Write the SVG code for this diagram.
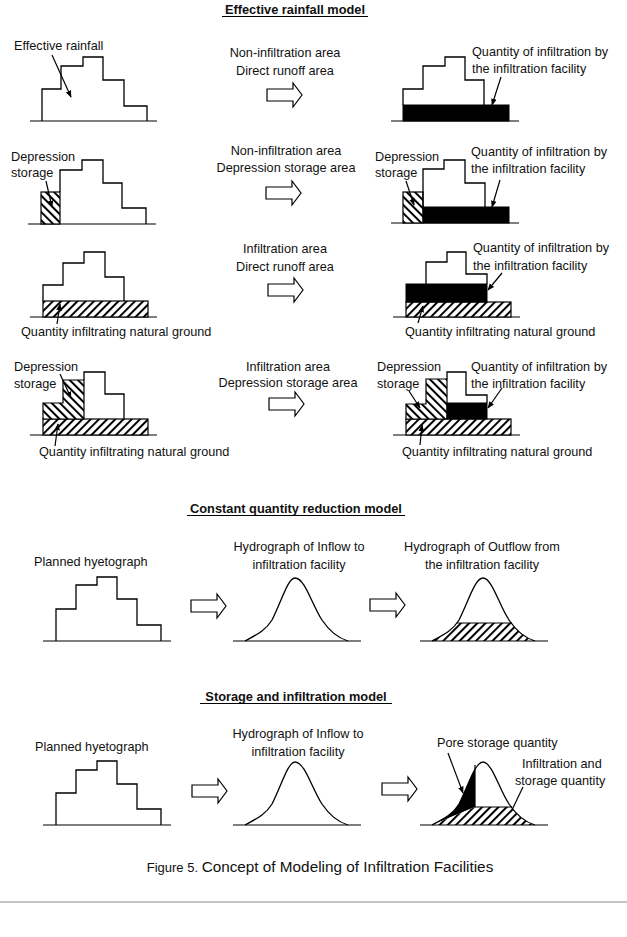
<svg xmlns="http://www.w3.org/2000/svg" width="627" height="937" viewBox="0 0 627 937">
<style>
text{font-family:"Liberation Sans",Arial,sans-serif;font-size:12.7px;fill:#111}
.t{font-weight:bold;font-size:12.8px}
.c{text-anchor:middle}
.ln{stroke:#000;stroke-width:1.3;fill:none}
.base{stroke:#000;stroke-width:1.2;fill:none}
.blk{fill:#000;stroke:#000;stroke-width:1}
.hf{fill:url(#fwd);stroke:#000;stroke-width:1.2}
.hb{fill:url(#bk);stroke:#000;stroke-width:1.2}
.ptr{stroke:#000;stroke-width:1.2;fill:none;marker-end:url(#ah)}
.ptr0{stroke:#000;stroke-width:1.2;fill:none}
.ba{fill:#fff;stroke:#000;stroke-width:1.2}
</style>
<defs>
<pattern id="fwd" width="5.8" height="5.8" patternUnits="userSpaceOnUse" patternTransform="rotate(45)"><rect width="5.8" height="5.8" fill="#fff"/><line x1="1" y1="0" x2="1" y2="5.8" stroke="#000" stroke-width="2"/></pattern>
<pattern id="bk" width="5.8" height="5.8" patternUnits="userSpaceOnUse" patternTransform="rotate(-45)"><rect width="5.8" height="5.8" fill="#fff"/><line x1="1" y1="0" x2="1" y2="5.8" stroke="#000" stroke-width="2"/></pattern>
<marker id="ah" viewBox="0 0 10 10" refX="9" refY="5" markerWidth="7" markerHeight="7" markerUnits="userSpaceOnUse" orient="auto"><path d="M0,1 L10,5 L0,9 z" fill="#000"/></marker>
<path id="barrow" d="M0,6 H26 V0 L35,12 L26,24 V18 H0 Z"/>
<clipPath id="bell1"><path d="M432,641 C445,634 453,630 459,620 C469,600 475,578 483,578 C492,578 499,605 509,620 C517,632 525,638 535,641 Z"/></clipPath>
<clipPath id="bell2"><path d="M432,825 C445,818 453,814 459,804 C469,784 475,762 483,762 C492,762 499,789 509,804 C517,816 525,822 535,825 Z"/></clipPath>
</defs>

<g id="titles">
<text class="t c" x="295" y="14">Effective rainfall model</text>
<line x1="222" y1="16.5" x2="368" y2="16.5" stroke="#000" stroke-width="1"/>
<text class="t c" x="296" y="513">Constant quantity reduction model</text>
<line x1="187" y1="515.5" x2="405" y2="515.5" stroke="#000" stroke-width="1"/>
<text class="t c" x="296" y="701">Storage and infiltration model</text>
<line x1="200" y1="703.5" x2="392" y2="703.5" stroke="#000" stroke-width="1"/>
</g>

<g id="r1-left">
<path class="base" d="M30,121 H157"/>
<path class="ln" d="M42,121 V89 H61 V66 H83 V57 H103 V80 H124 V106 H147 V121"/>
<text x="14" y="50">Effective rainfall</text>
</g>
<g id="r1-mid">
<text class="c" x="285" y="57">Non-infiltration area</text>
<text class="c" x="285" y="75">Direct runoff area</text>
</g>
<g id="r1-right">
<path class="base" d="M391,121 H519"/>
<rect class="blk" x="403" y="105" width="106" height="16"/>
<path class="ln" d="M403,105 V89 H423 V66 H445 V57 H465 V80 H484 V105"/>
<text x="472" y="56">Quantity of infiltration by</text>
<text x="472" y="73">the infiltration facility</text>
</g>

<g id="r2-left">
<path class="base" d="M28,224 H156"/>
<rect class="hb" x="41" y="192" width="19" height="32"/>
<path class="ln" d="M60,192 V170 H82 V160 H103 V183 H122 V208 H146 V224"/>
<text x="11" y="161">Depression</text>
<text x="11" y="177">storage</text>
</g>
<g id="r2-mid">
<text class="c" x="286" y="155">Non-infiltration area</text>
<text class="c" x="286" y="172">Depression storage area</text>
</g>
<g id="r2-right">
<path class="base" d="M391,223 H519"/>
<rect class="hb" x="403" y="192" width="20" height="31"/>
<rect class="blk" x="423" y="207" width="86" height="16"/>
<path class="ln" d="M423,207 V169 H444 V160 H465 V183 H485 V207"/>
<text x="375" y="161">Depression</text>
<text x="375" y="177">storage</text>
<text x="471" y="156">Quantity of infiltration by</text>
<text x="471" y="173">the infiltration facility</text>
</g>

<g id="r3-left">
<path class="base" d="M30,317 H157"/>
<rect class="hf" x="43" y="301" width="105" height="16"/>
<path class="ln" d="M43,301 V285 H63 V263 H84 V252 H105 V277 H124 V301"/>
<text x="21" y="336">Quantity infiltrating natural ground</text>
</g>
<g id="r3-mid">
<text class="c" x="285" y="253">Infiltration area</text>
<text class="c" x="285" y="271">Direct runoff area</text>
</g>
<g id="r3-right">
<path class="base" d="M393,317 H520"/>
<rect class="hf" x="406" y="302" width="105" height="15"/>
<rect class="blk" x="406" y="284" width="81" height="18"/>
<path class="ln" d="M426,284 V262 H447 V252 H466 V274 H487 V284"/>
<text x="473" y="252">Quantity of infiltration by</text>
<text x="473" y="270">the infiltration facility</text>
<text x="405" y="336">Quantity infiltrating natural ground</text>
</g>

<g id="r4-left">
<path class="base" d="M30,435 H157"/>
<rect class="hf" x="43" y="419" width="105" height="16"/>
<polygon class="hb" points="43,419 43,403 63,403 63,380 84,380 84,419"/>
<path class="ln" d="M84,380 V372 H105 V394 H124 V419"/>
<text x="14" y="371">Depression</text>
<text x="14" y="388">storage</text>
<text x="39" y="456">Quantity infiltrating natural ground</text>
</g>
<g id="r4-mid">
<text class="c" x="288" y="371">Infiltration area</text>
<text class="c" x="288" y="387">Depression storage area</text>
</g>
<g id="r4-right">
<path class="base" d="M393,435 H520"/>
<rect class="hf" x="406" y="419" width="105" height="16"/>
<polygon class="hb" points="406,419 406,404 426,404 426,379 447,379 447,419"/>
<rect class="blk" x="447" y="403" width="40" height="16"/>
<path class="ln" d="M447,379 V372 H466 V395 H487 V403"/>
<text x="377" y="371">Depression</text>
<text x="377" y="388">storage</text>
<text x="471" y="371">Quantity of infiltration by</text>
<text x="471" y="388">the infiltration facility</text>
<text x="402" y="456">Quantity infiltrating natural ground</text>
</g>

<g id="cq-hyetograph">
<text x="34" y="566">Planned hyetograph</text>
<path class="base" d="M43,641 H171"/>
<path class="ln" d="M56,641 V609 H76 V585 H97 V577 H117 V599 H137 V625 H161 V641"/>
</g>
<g id="cq-inflow">
<text class="c" x="299" y="551">Hydrograph of Inflow to</text>
<text class="c" x="299" y="569">infiltration facility</text>
<path class="base" d="M233,641 H361"/>
<path class="ln" d="M245,641 C258,634 266,630 272,620 C282,600 288,578 295,578 C305,578 312,605 322,620 C330,632 338,638 348,641"/>
</g>
<g id="cq-outflow">
<text class="c" x="482" y="551">Hydrograph of Outflow from</text>
<text class="c" x="482" y="569">the infiltration facility</text>
<rect x="420" y="623" width="128" height="18" fill="url(#fwd)" clip-path="url(#bell1)"/>
<line x1="457" y1="623" x2="512" y2="623" stroke="#000" stroke-width="1.2"/>
<path class="base" d="M420,641 H548"/>
<path class="ln" d="M432,641 C445,634 453,630 459,620 C469,600 475,578 483,578 C492,578 499,605 509,620 C517,632 525,638 535,641"/>
</g>

<g id="si-hyetograph">
<text x="35" y="751">Planned hyetograph</text>
<path class="base" d="M43,825 H171"/>
<path class="ln" d="M56,825 V793 H76 V770 H97 V761 H117 V784 H137 V809 H161 V825"/>
</g>
<g id="si-inflow">
<text class="c" x="298" y="738">Hydrograph of Inflow to</text>
<text class="c" x="298" y="756">infiltration facility</text>
<path class="base" d="M233,825 H361"/>
<path class="ln" d="M245,825 C258,818 266,814 272,804 C282,784 288,762 295,762 C305,762 312,789 322,804 C330,816 338,822 348,825"/>
</g>
<g id="si-outflow">
<text x="437" y="747">Pore storage quantity</text>
<text x="522" y="768">Infiltration and</text>
<text x="515" y="785">storage quantity</text>
<polygon points="420,740 475,740 475,807 432,825 420,825" fill="#000" clip-path="url(#bell2)"/>
<polygon points="432,825 475,807 548,807 548,825" fill="url(#fwd)" clip-path="url(#bell2)"/>
<path d="M475,765 V807 H512" stroke="#000" stroke-width="1.2" fill="none"/>
<path class="base" d="M420,825 H548"/>
<path class="ln" d="M432,825 C445,818 453,814 459,804 C469,784 475,762 483,762 C492,762 499,789 509,804 C517,816 525,822 535,825"/>
</g>

<g id="block-arrows">
<use href="#barrow" class="ba" x="267" y="83"/>
<use href="#barrow" class="ba" x="266" y="181"/>
<use href="#barrow" class="ba" x="268" y="278"/>
<use href="#barrow" class="ba" x="269" y="392"/>
<use href="#barrow" class="ba" x="191" y="594"/>
<use href="#barrow" class="ba" x="370" y="593"/>
<use href="#barrow" class="ba" x="192" y="779"/>
<use href="#barrow" class="ba" x="382" y="777"/>
</g>

<g id="connectors">
<line class="ptr" x1="52" y1="55" x2="71" y2="97"/>
<line class="ptr" x1="501" y1="77" x2="492" y2="105"/>
<line class="ptr" x1="46" y1="181" x2="52" y2="207"/>
<line class="ptr" x1="406" y1="181" x2="414" y2="205"/>
<line class="ptr" x1="500" y1="180" x2="492" y2="207"/>
<line class="ptr" x1="57" y1="324" x2="60" y2="304"/>
<line class="ptr" x1="502" y1="273" x2="488" y2="290"/>
<line class="ptr" x1="418" y1="323" x2="423" y2="306"/>
<line class="ptr" x1="60" y1="374" x2="71" y2="398"/>
<line class="ptr" x1="55" y1="446" x2="58" y2="424"/>
<line class="ptr" x1="409" y1="391" x2="420" y2="408"/>
<line class="ptr" x1="502" y1="388" x2="488" y2="408"/>
<line class="ptr" x1="420" y1="445" x2="422" y2="425"/>
<line class="ptr" x1="448" y1="753" x2="463" y2="793"/>
<line class="ptr0" x1="523" y1="787" x2="511" y2="812"/>
</g>

<g id="caption">
<text class="c" x="320" y="872"><tspan font-size="13">Figure 5. </tspan><tspan font-size="15.3">Concept of Modeling of Infiltration Facilities</tspan></text>
<line x1="0" y1="902" x2="627" y2="902" stroke="#888" stroke-width="1"/>
</g>
</svg>
